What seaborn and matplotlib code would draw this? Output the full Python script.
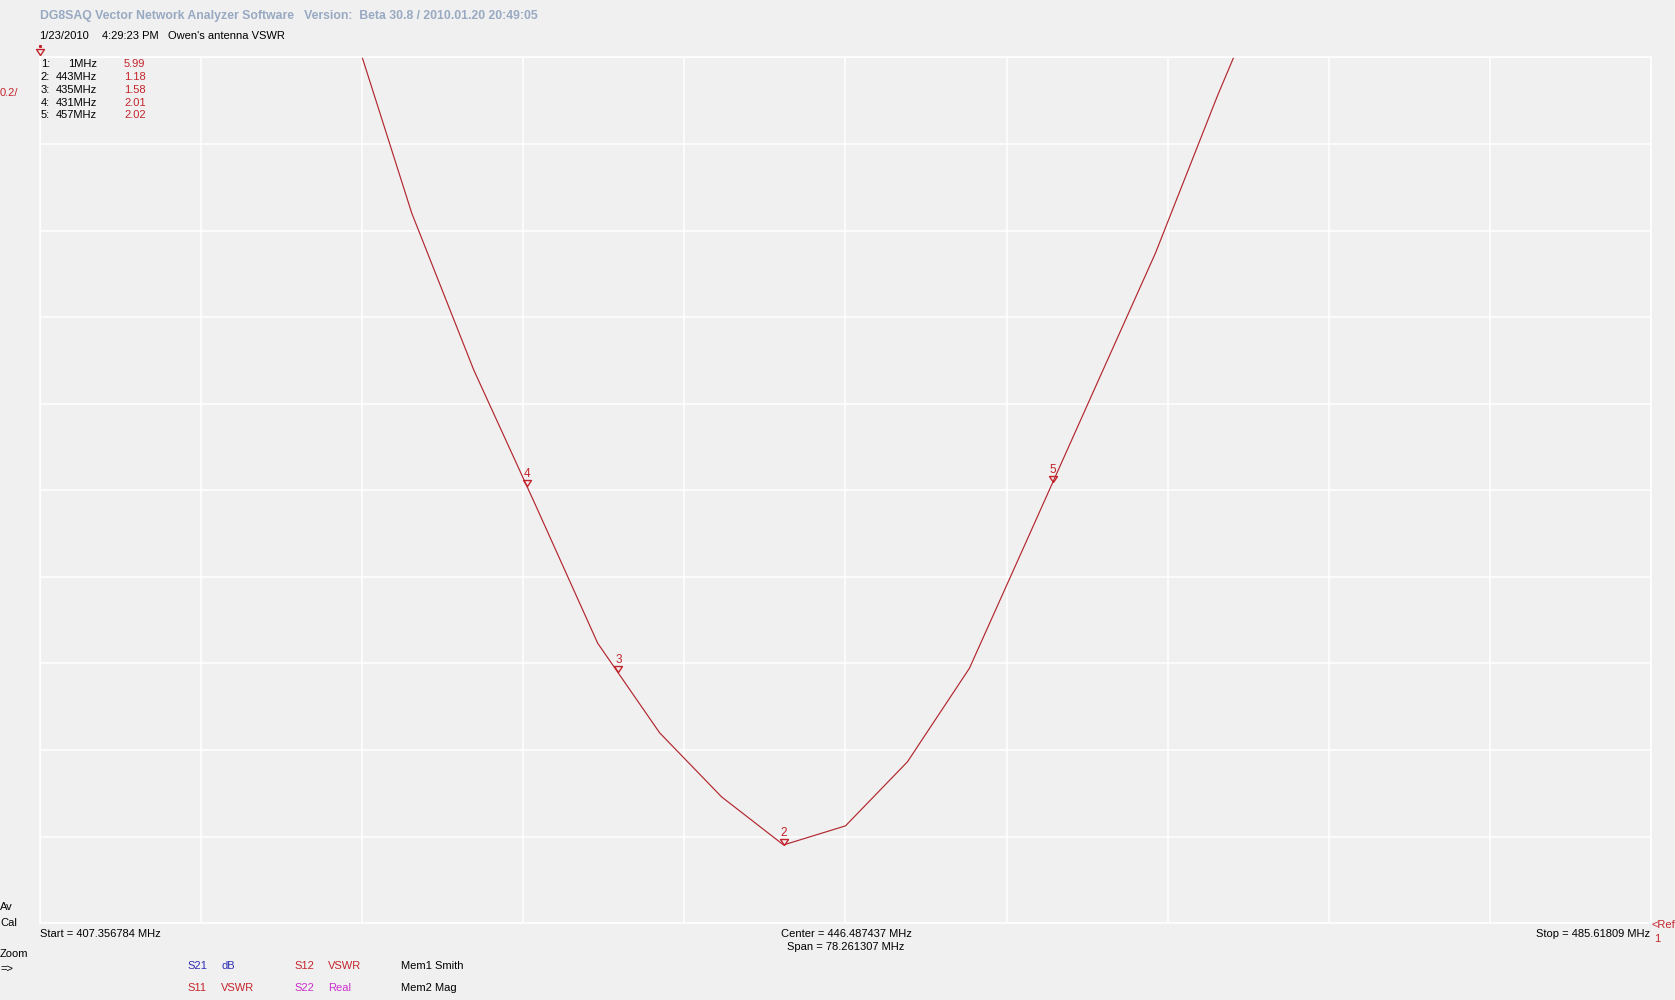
import numpy as np
import pandas as pd
import matplotlib
matplotlib.use("Agg")
import matplotlib.pyplot as plt
import seaborn as sns

# ---------------- data ----------------
start_mhz = 407.356784
stop_mhz = 485.61809
center_mhz = 446.487437
span_mhz = 78.261307
ref_vswr = 1.0
vswr_per_div = 0.2
n_div = 10

# sweep points (MHz) and VSWR
freq_mhz = [422.407034, 425.417085, 428.427135, 431.437186, 434.447236,
            437.457286, 440.467337, 443.477387, 446.487437, 449.497487,
            452.507538, 455.517588, 458.527638, 461.537689, 464.547739,
            467.557789]
vswr = [3.09, 2.64, 2.278, 1.965, 1.647, 1.440, 1.292, 1.181, 1.225, 1.373,
        1.589, 1.908, 2.228, 2.547, 2.91, 3.25]

# markers drawn on the trace
marker_ids = ["2", "3", "4", "5"]
marker_freq = [443.477, 435.45, 431.0, 456.55]
marker_vswr = [1.18, 1.58, 2.01, 2.02]

# marker table
table_ids = ["1:", "2:", "3:", "4:", "5:"]
table_freq_labels = ["1MHz", "443MHz", "435MHz", "431MHz", "457MHz"]
table_values = ["5.99", "1.18", "1.58", "2.01", "2.02"]

# ---------------- style ----------------
W, H = 1675, 1000
BG = "#F0F0F0"
RED = "#C4242C"
CURVE = "#B3262E"
BLUE = "#2E2EB4"
MAG = "#CC2ECC"
TITLE = "#98A9C2"

sns.set_style("whitegrid", rc={"axes.facecolor": BG, "figure.facecolor": BG,
                               "grid.color": "white"})
plt.rcParams["font.family"] = ["Liberation Sans", "DejaVu Sans"]
plt.rcParams["font.size"] = 8

fig = plt.figure(figsize=(W / 100, H / 100), dpi=100)
fig.patch.set_facecolor(BG)

L, T, R, B = 40, 57.3, 1651, 923.3
ax = fig.add_axes([L / W, 1 - B / H, (R - L) / W, (B - T) / H])
ax.set_facecolor(BG)

df = pd.DataFrame({"freq": freq_mhz, "vswr": vswr})
sns.lineplot(data=df, x="freq", y="vswr", ax=ax, color=CURVE, linewidth=0.85,
             sort=False, estimator=None)

ax.set_xlim(start_mhz, stop_mhz)
ax.set_ylim(ref_vswr, ref_vswr + vswr_per_div * n_div)
ax.set_xticks(np.linspace(start_mhz, stop_mhz, n_div + 1))
ax.set_yticks(np.linspace(ref_vswr, ref_vswr + vswr_per_div * n_div, n_div + 1))
ax.grid(True, color="white", linewidth=1.1)
ax.tick_params(length=0, labelbottom=False, labelleft=False)
ax.set_xlabel("")
ax.set_ylabel("")
for sp in ax.spines.values():
    sp.set_color("white")
    sp.set_linewidth(1.1)

# marker triangles (tip on the trace)
tri = [(0, 0), (-4, 6), (4, 6), (0, 0)]
ax.plot(marker_freq, marker_vswr, ls="none", marker=tri, ms=8.6,
        mfc="none", mec=RED, mew=1.0)
for mid, f, v in zip(marker_ids, marker_freq, marker_vswr):
    ax.annotate(mid, (f, v), xytext=(0, 4.3), textcoords="offset points",
                ha="center", va="bottom", color=RED, fontsize=8.5)

# marker 1 (off-screen, clamped to top-left)
ax.plot([0], [1.0027], transform=ax.transAxes, ls="none", marker=tri, ms=8.6,
        mfc="none", mec=RED, mew=1.0, clip_on=False)
ax.plot([0], [1.0125], transform=ax.transAxes, ls="none", marker="s", ms=1.2,
        color=RED, clip_on=False)


def ft(x, y, s, **kw):
    kw.setdefault("va", "center")
    fig.text(x / W, 1 - y / H, s, **kw)


ft(39.5, 16, "DG8SAQ Vector Network Analyzer Software   Version:  Beta 30.8 / 2010.01.20 20:49:05",
   color=TITLE, fontweight="bold", fontsize=8.85)
ft(39.5, 36.3, "1/23/2010", color="black")
ft(101.5, 36.3, "4:29:23 PM", color="black")
ft(167.7, 36.3, "Owen's antenna VSWR", color="black")

rows_y = [64, 77, 89.7, 102.5, 115.4]
for y, i, fl, v in zip(rows_y, table_ids, table_freq_labels, table_values):
    ft(40.6, y, i, color="black")
    ft(97, y, fl, color="black", ha="right")
    ft(124, y, v, color=RED)

ft(0, 93, "0.2/", color=RED)
ft(0, 907, "Av", color="black")
ft(0, 923, "Cal", color="black")
ft(0, 954, "Zoom", color="black")
ft(0, 969, "=>", color="black")

ft(39.5, 933.6, f"Start = {start_mhz:.6f} MHz", color="black")
ft(846, 933.6, f"Center = {center_mhz:.6f} MHz", color="black", ha="center")
ft(846, 947.5, f"Span = {span_mhz:.6f} MHz", color="black", ha="center")
ft(1650, 933.6, f"Stop = {stop_mhz:.5f} MHz", color="black", ha="right")
ft(1652, 925, "<Ref", color=RED)
ft(1654, 939, "1", color=RED)

ft(187, 965.7, "S21", color=BLUE)
ft(221, 965.7, "dB", color=BLUE)
ft(294, 965.7, "S12", color=RED)
ft(328, 965.7, "VSWR", color=RED)
ft(400.6, 965.7, "Mem1 Smith", color="black")
ft(187, 988, "S11", color=RED)
ft(221, 988, "VSWR", color=RED)
ft(294, 988, "S22", color=MAG)
ft(328, 988, "Real", color=MAG)
ft(400.6, 988, "Mem2 Mag", color="black")

fig.savefig("out.png", dpi=100, facecolor=BG)
